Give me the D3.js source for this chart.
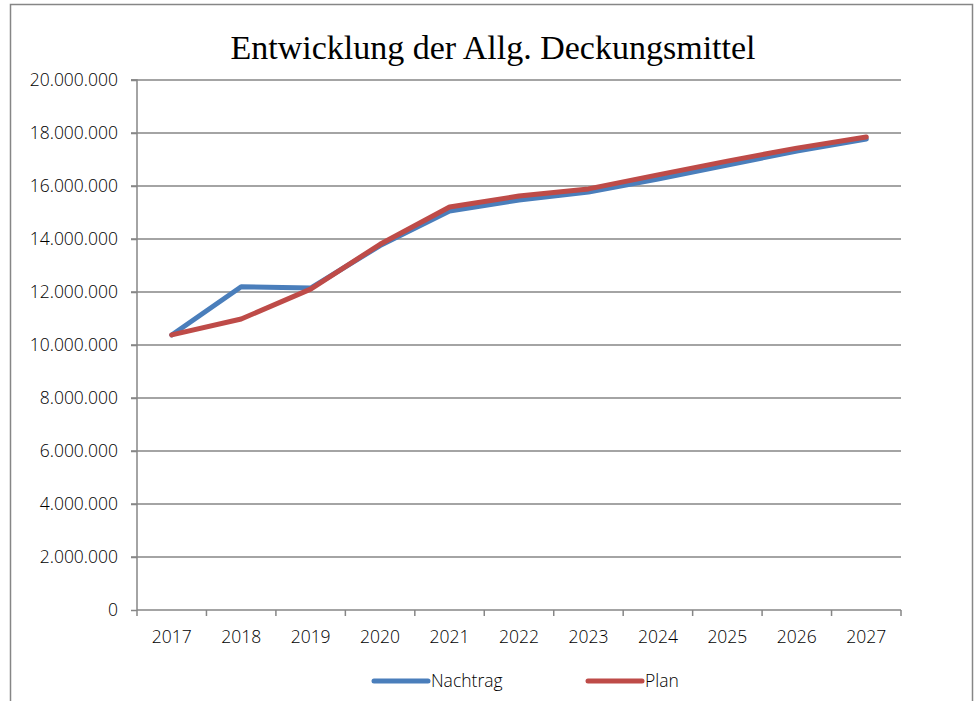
<!DOCTYPE html>
<html>
<head>
<meta charset="utf-8">
<script src="https://cdn.jsdelivr.net/npm/d3@7"></script>
<style>
  body { margin: 0; background: #fff; }
  svg text { fill: #000; }
</style>
</head>
<body>
<svg id="chart"></svg>
<script>
const years = ['2017', '2018', '2019', '2020', '2021', '2022', '2023', '2024', '2025', '2026', '2027'];
const nachtrag = [10380000, 12200000, 12150000, 13750000, 15060000, 15470000, 15770000, 16260000, 16790000, 17320000, 17770000];
const plan = [10380000, 10980000, 12110000, 13800000, 15210000, 15620000, 15890000, 16420000, 16940000, 17430000, 17850000];
const yTicks = [0, 2000000, 4000000, 6000000, 8000000, 10000000, 12000000, 14000000, 16000000, 18000000, 20000000];
const seriesNames = ['Nachtrag', 'Plan'];
const colors = ['#4a7ebb', '#be4b48'];

const width = 979, height = 701;
const margin = { top: 80, right: 78, bottom: 91, left: 137 };
const labelFont = '"Open Sans", sans-serif';

const svg = d3.select('#chart')
  .attr('width', width)
  .attr('height', height);

// outer frame
svg.append('rect')
  .attr('x', 10.5).attr('y', 4.5)
  .attr('width', 962).attr('height', 710)
  .attr('fill', 'none')
  .attr('stroke', '#868686')
  .attr('stroke-width', 1.5);

svg.append('text')
  .attr('x', 493).attr('y', 59)
  .attr('text-anchor', 'middle')
  .style('font-family', '"Liberation Serif", serif')
  .style('font-size', '34px')
  .text('Entwicklung der Allg. Deckungsmittel');

const x = d3.scaleBand()
  .domain(years)
  .range([margin.left, width - margin.right]);

const y = d3.scaleLinear()
  .domain([0, 20000000])
  .range([height - margin.bottom, margin.top]);

const fmt = d => d3.format(',')(d).replace(/,/g, '.');

// gridlines
svg.append('g')
  .selectAll('line')
  .data(yTicks.slice(1))
  .enter()
  .append('line')
    .attr('x1', margin.left - 6)
    .attr('x2', width - margin.right)
    .attr('y1', d => y(d))
    .attr('y2', d => y(d))
    .attr('stroke', '#868686')
    .attr('stroke-width', 1.5);

const yAxis = svg.append('g')
  .attr('transform', `translate(${margin.left},0)`)
  .call(d3.axisLeft(y).tickValues(yTicks).tickFormat(fmt).tickSize(6).tickPadding(13));

const xAxis = svg.append('g')
  .attr('transform', `translate(0,${height - margin.bottom})`)
  .call(d3.axisBottom(x).tickSize(0).tickPadding(21));

// tick marks between categories
xAxis.selectAll('.sep')
  .data(d3.range(years.length + 1))
  .enter()
  .append('line')
    .attr('x1', i => margin.left + i * x.step())
    .attr('x2', i => margin.left + i * x.step())
    .attr('y1', 0).attr('y2', 6)
    .attr('stroke', '#868686')
    .attr('stroke-width', 1.5);

[yAxis, xAxis].forEach(a => {
  a.selectAll('.domain').attr('stroke', '#868686').attr('stroke-width', 1.5);
  a.selectAll('.tick line').attr('stroke', '#868686').attr('stroke-width', 1.5);
  a.selectAll('text')
    .style('font-family', labelFont)
    .style('font-weight', 300)
    .style('font-size', '17.5px')
    .style('fill', '#000');
});
yAxis.select('.domain').attr('d', `M-6,${y(20000000)}H0V${y(0)}`);
xAxis.select('.domain').attr('d', `M${margin.left},0H${width - margin.right}`);

const line = d3.line()
  .x((d, i) => x(years[i]) + x.bandwidth() / 2)
  .y(d => y(d));

[nachtrag, plan].forEach((s, i) => {
  svg.append('path')
    .datum(s)
    .attr('fill', 'none')
    .attr('stroke', colors[i])
    .attr('stroke-width', 5)
    .attr('stroke-linejoin', 'round')
    .attr('stroke-linecap', 'round')
    .attr('d', line);
});

// legend
const legendX = [374, 588];
seriesNames.forEach((name, i) => {
  const g = svg.append('g').attr('transform', `translate(${legendX[i]},681)`);
  g.append('line')
    .attr('x1', 0).attr('x2', 54)
    .attr('stroke', colors[i])
    .attr('stroke-width', 5)
    .attr('stroke-linecap', 'round');
  g.append('text')
    .attr('x', 57).attr('y', 6)
    .style('font-family', labelFont)
    .style('font-weight', 300)
    .style('font-size', '17.5px')
    .text(name);
});
</script>
</body>
</html>
